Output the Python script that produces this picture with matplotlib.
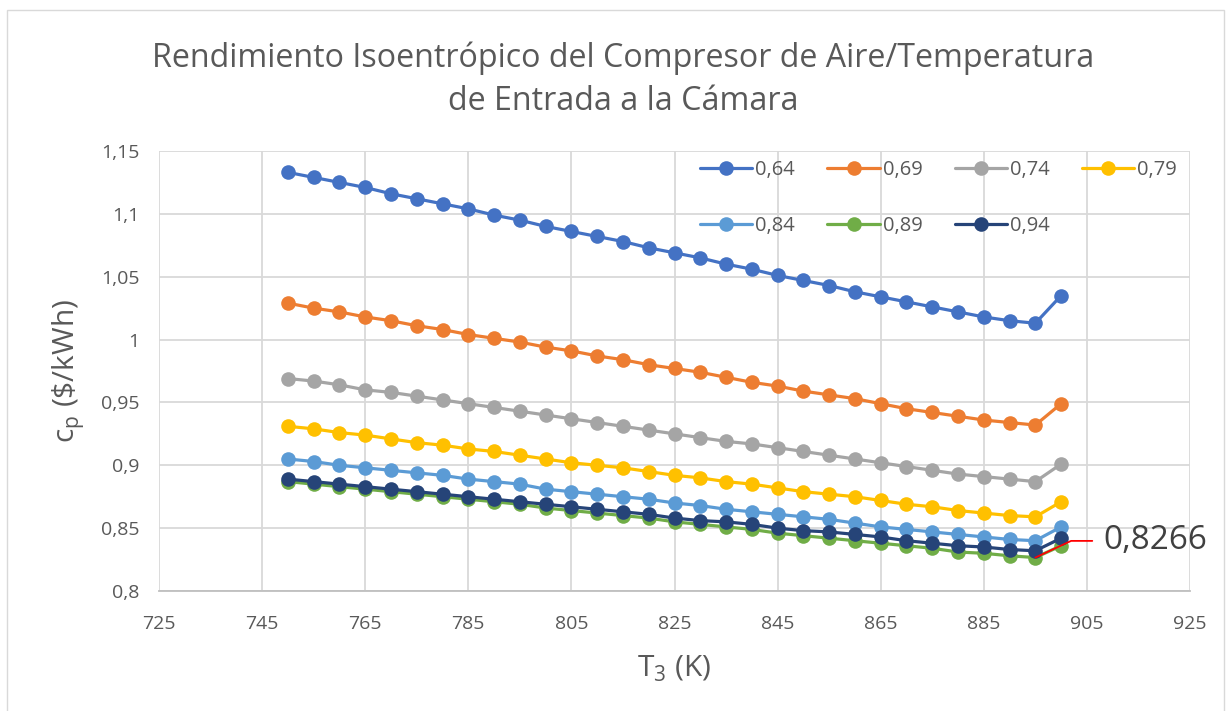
import matplotlib
matplotlib.use("Agg")
import matplotlib.pyplot as plt
from matplotlib.ticker import FuncFormatter
from matplotlib.patches import Rectangle

# ---------------- data ----------------
t3 = list(range(750, 901, 5))

eff_labels = ["0,64", "0,69", "0,74", "0,79", "0,84", "0,89", "0,94"]

cp_064 = [1.133, 1.129, 1.125, 1.121, 1.116, 1.112, 1.108, 1.104, 1.099, 1.095,
          1.090, 1.086, 1.082, 1.078, 1.073, 1.069, 1.065, 1.060, 1.056, 1.051,
          1.047, 1.043, 1.038, 1.034, 1.030, 1.026, 1.022, 1.018, 1.015, 1.013, 1.035]
cp_069 = [1.029, 1.025, 1.022, 1.018, 1.015, 1.011, 1.008, 1.004, 1.001, 0.998,
          0.994, 0.991, 0.987, 0.984, 0.980, 0.977, 0.974, 0.970, 0.966, 0.963,
          0.959, 0.956, 0.953, 0.949, 0.945, 0.942, 0.939, 0.936, 0.934, 0.932, 0.949]
cp_074 = [0.969, 0.967, 0.964, 0.960, 0.958, 0.955, 0.952, 0.949, 0.946, 0.943,
          0.940, 0.937, 0.934, 0.931, 0.928, 0.925, 0.922, 0.919, 0.917, 0.914,
          0.911, 0.908, 0.905, 0.902, 0.899, 0.896, 0.893, 0.891, 0.889, 0.887, 0.901]
cp_079 = [0.931, 0.929, 0.926, 0.924, 0.921, 0.918, 0.916, 0.913, 0.911, 0.908,
          0.905, 0.902, 0.900, 0.898, 0.895, 0.892, 0.890, 0.887, 0.885, 0.882,
          0.879, 0.877, 0.875, 0.872, 0.869, 0.867, 0.864, 0.862, 0.860, 0.859, 0.871]
cp_084 = [0.905, 0.903, 0.900, 0.898, 0.896, 0.894, 0.892, 0.889, 0.887, 0.885,
          0.881, 0.879, 0.877, 0.875, 0.873, 0.870, 0.868, 0.865, 0.863, 0.861,
          0.859, 0.857, 0.854, 0.851, 0.849, 0.847, 0.845, 0.843, 0.841, 0.840, 0.851]
cp_089 = [0.887, 0.885, 0.883, 0.881, 0.879, 0.877, 0.875, 0.873, 0.871, 0.869,
          0.866, 0.864, 0.862, 0.860, 0.858, 0.855, 0.853, 0.851, 0.849, 0.846,
          0.844, 0.842, 0.840, 0.838, 0.836, 0.834, 0.831, 0.830, 0.828, 0.8266, 0.836]
cp_094 = [0.889, 0.887, 0.885, 0.883, 0.881, 0.879, 0.877, 0.875, 0.873, 0.871,
          0.869, 0.867, 0.865, 0.863, 0.861, 0.858, 0.856, 0.855, 0.853, 0.850,
          0.848, 0.847, 0.845, 0.843, 0.840, 0.838, 0.836, 0.835, 0.833, 0.832, 0.842]

series = [cp_064, cp_069, cp_074, cp_079, cp_084, cp_089, cp_094]
colors = ["#4472C4", "#ED7D31", "#A5A5A5", "#FFC000", "#5B9BD5", "#70AD47", "#264478"]

x_ticks = list(range(725, 926, 20))
y_ticks = [0.8, 0.85, 0.9, 0.95, 1.0, 1.05, 1.1, 1.15]

title_text = "Rendimiento Isoentrópico del Compresor de Aire/Temperatura\nde Entrada a la Cámara"
annot_text = "0,8266"

# ---------------- figure ----------------
FONT = "Open Sans"
TXT = "#595959"
plt.rcParams["font.family"] = [FONT, "DejaVu Sans"]
plt.rcParams["mathtext.fontset"] = "custom"
plt.rcParams["mathtext.rm"] = FONT

W, H = 1232, 711
fig = plt.figure(figsize=(W / 100, H / 100), dpi=100)
fig.patch.set_facecolor("white")

# outer chart border
fig.patches.append(Rectangle((7 / W, -0.05), (1224 - 7) / W, 1.05 - 10 / H,
                             transform=fig.transFigure, fill=False,
                             edgecolor="#d9d9d9", linewidth=1.0))

ax = fig.add_axes([159 / W, 1 - 591 / H, (1190 - 159) / W, (591 - 151) / H])

handles = []
for vals, lab, c in zip(series, eff_labels, colors):
    h, = ax.plot(t3, vals, color=c, lw=2.3, marker="o", markersize=10.5,
                 markeredgewidth=0, label=lab, solid_capstyle="round")
    handles.append(h)

ax.set_xlim(725, 925)
ax.set_ylim(0.8, 1.15)
ax.set_xticks(x_ticks)
ax.set_yticks(y_ticks)
ax.yaxis.set_major_formatter(FuncFormatter(lambda v, p: ("%g" % round(v, 3)).replace(".", ",")))
ax.grid(True, color="#d9d9d9", lw=1.3)
ax.set_axisbelow(True)
for s in ["top", "right", "left"]:
    ax.spines[s].set_visible(False)
ax.spines["bottom"].set_color("#bfbfbf")
ax.spines["bottom"].set_linewidth(1.3)
ax.tick_params(length=0, labelsize=14, labelcolor=TXT)
ax.tick_params(axis="x", pad=17)
ax.tick_params(axis="y", pad=14)

ax.set_xlabel(r"T$_\mathregular{3}$ (K)", fontsize=21.5, color=TXT, labelpad=15)
ax.set_ylabel(r"c$_\mathregular{p}$ (\$/kWh)", fontsize=21.5, color=TXT, labelpad=10)

fig.text(623 / W, 1 - 80 / H, title_text, ha="center", va="center",
         fontsize=23.2, color=TXT, linespacing=1.42)

# legend (row-major order like Excel)
order = [0, 4, 1, 5, 2, 6, 3]
ax.legend([handles[i] for i in order], [eff_labels[i] for i in order],
          ncol=4, frameon=False, loc="upper left",
          bbox_to_anchor=(700 / W, 1 - 160 / H), bbox_transform=fig.transFigure,
          fontsize=14.5, handlelength=2.6, handletextpad=0.15,
          columnspacing=1.6, labelspacing=1.78, borderpad=0, borderaxespad=0,
          labelcolor=TXT)

# data label with red leader line
ax.annotate(annot_text, xy=(t3[-2], cp_089[-2]), xycoords="data",
            xytext=(49, 12), textcoords="offset points",
            ha="left", va="center", fontsize=24, color="#404040",
            arrowprops=dict(arrowstyle="-", color="red", lw=1.3,
                            connectionstyle="angle,angleA=0,angleB=25,rad=0",
                            relpos=(0, 0.5), shrinkA=6, shrinkB=0),
            annotation_clip=False)

fig.savefig("out.png", dpi=100)
